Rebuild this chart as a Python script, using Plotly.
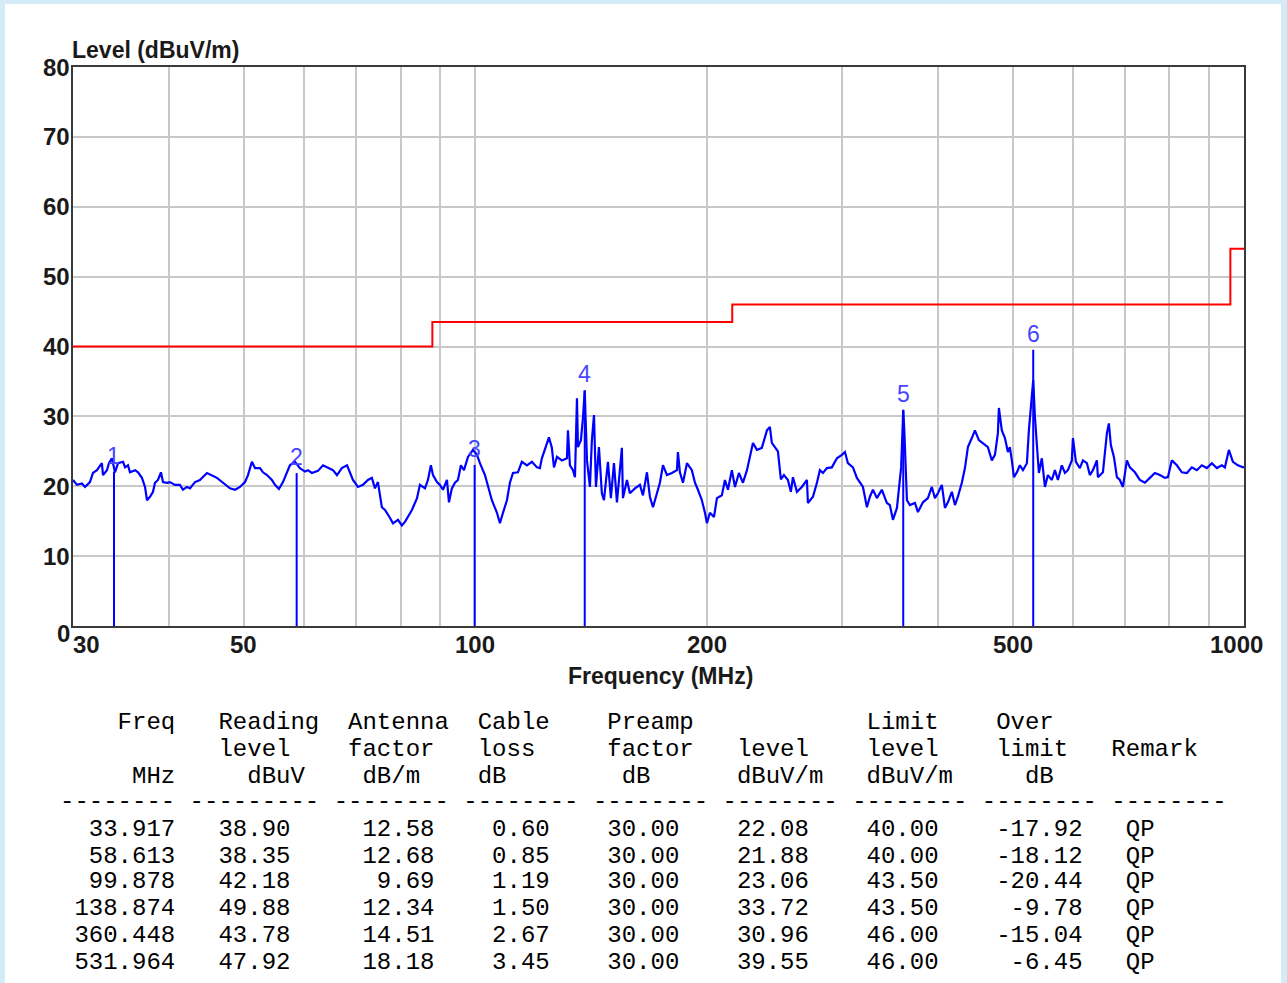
import math
import plotly.graph_objects as go

# ---------------- data ----------------
trace_freq = [
    30.0, 30.36, 30.81, 31.10, 31.56, 31.85, 32.23, 32.71, 32.82, 33.21, 33.41, 33.71, 34.02, 34.33,
    34.85, 35.06, 35.37, 35.58, 36.13, 36.45, 36.88, 37.22, 37.44, 37.78, 38.12, 38.35, 38.69, 39.04,
    39.28, 39.75, 40.10, 40.71, 41.32, 41.70, 42.20, 42.58, 43.23, 43.87, 44.81, 45.48, 46.17, 47.01,
    48.00, 48.73, 49.46, 50.21, 50.66, 51.26, 51.74, 52.51, 52.99, 53.63, 54.42, 54.93, 55.58, 56.26,
    56.94, 57.44, 58.32, 59.19, 60.09, 60.63, 61.34, 62.47, 63.42, 64.37, 65.35, 66.13, 67.11, 68.15,
    68.75, 69.38, 70.42, 71.49, 72.56, 73.42, 74.10, 74.76, 75.65, 76.36, 77.49, 78.21, 79.38, 80.32,
    81.07, 81.80, 82.77, 84.04, 84.78, 86.07, 86.84, 87.61, 88.16, 89.22, 90.01, 90.84, 91.93, 92.48,
    93.29, 94.16, 95.00, 95.85, 96.74, 97.90, 99.38, 100.57, 101.47, 103.01, 103.94, 105.16, 106.78,
    107.73, 108.72, 110.02, 111.00, 112.02, 113.70, 115.04, 116.82, 118.55, 120.37, 121.44, 122.15,
    123.29, 124.76, 125.86, 126.66, 127.80, 129.69, 131.68, 132.07, 132.85, 134.07, 134.87, 135.68,
    136.08, 137.29, 138.15, 138.87, 139.81, 141.05, 141.88, 142.78, 143.63, 144.91, 146.19, 147.11,
    148.87, 150.19, 151.58, 152.94, 155.21, 155.72, 157.59, 158.99, 161.42, 163.83, 165.33, 167.31,
    168.80, 170.36, 172.40, 173.94, 175.54, 177.65, 180.28, 183.04, 183.58, 184.67, 186.37, 188.61,
    191.40, 193.19, 194.92, 197.22, 199.06, 200.24, 202.03, 204.50, 206.34, 209.40, 211.34, 213.23,
    215.75, 217.77, 220.37, 223.05, 225.73, 227.73, 229.83, 232.59, 236.03, 239.65, 241.78, 243.20,
    245.47, 247.67, 249.87, 252.18, 255.20, 257.46, 259.07, 262.18, 266.06, 270.14, 270.94, 275.06,
    278.36, 280.84, 283.42, 286.82, 291.07, 295.53, 299.91, 302.72, 305.42, 310.05, 313.77, 316.56,
    319.48, 323.31, 326.19, 329.19, 333.14, 338.08, 343.26, 346.31, 349.50, 353.69, 358.20, 360.45,
    361.60, 364.45, 367.69, 373.30, 376.64, 382.35, 388.09, 392.67, 396.33, 399.88, 404.61, 408.39,
    412.04, 416.91, 420.80, 424.56, 429.58, 433.59, 437.47, 442.64, 446.76, 452.09, 457.60, 464.46,
    469.96, 474.34, 478.58, 480.00, 484.24, 488.76, 493.13, 496.04, 498.96, 502.11, 506.62, 511.12,
    515.82, 522.01, 525.10, 529.75, 531.96, 534.69, 537.88, 541.07, 545.85, 550.95, 555.87, 562.45,
    567.69, 572.76, 579.54, 584.94, 590.17, 597.15, 599.13, 604.52, 611.71, 617.34, 624.75, 630.30,
    636.10, 643.73, 645.64, 655.43, 663.30, 667.23, 671.16, 677.38, 683.45, 689.53, 695.88, 704.23,
    710.49, 721.33, 732.09, 743.25, 754.34, 765.85, 777.27, 789.13, 796.19, 805.60, 817.96, 830.08,
    842.82, 855.32, 868.44, 881.31, 894.83, 908.09, 922.03, 935.70, 944.42, 955.69, 967.33, 981.84,
    996.73, 1000.0,
]
trace_level = [
    20.9, 20.2, 20.4, 19.9, 20.6, 21.9, 22.3, 23.3, 21.6, 22.3, 23.3, 24.0, 22.0, 23.3,
    23.5, 22.7, 23.0, 22.0, 22.3, 22.0, 21.2, 19.9, 18.0, 18.5, 19.2, 20.5, 20.9, 22.0,
    20.6, 20.5, 20.6, 20.2, 20.2, 19.5, 19.9, 19.7, 20.6, 20.9, 21.9, 21.6, 21.2, 20.5,
    19.7, 19.5, 19.9, 20.6, 21.6, 23.5, 22.6, 22.6, 22.0, 21.6, 20.9, 20.2, 19.6, 20.6,
    21.9, 23.0, 23.5, 22.6, 22.1, 22.3, 21.9, 22.2, 23.0, 22.6, 22.3, 21.6, 22.6, 23.0,
    22.0, 20.9, 19.9, 20.2, 20.9, 21.2, 19.7, 20.6, 17.0, 16.6, 15.5, 14.7, 15.2, 14.4,
    14.9, 15.6, 16.6, 18.3, 20.2, 19.7, 20.9, 23.0, 21.6, 20.6, 20.2, 19.5, 20.9, 17.7,
    19.7, 20.5, 20.9, 23.0, 22.3, 24.2, 25.2, 24.5, 23.3, 21.6, 19.9, 18.0, 16.2,
    14.7, 16.2, 18.0, 20.5, 21.9, 22.0, 23.5, 23.0, 23.5, 22.7, 22.6, 24.0,
    25.2, 27.0, 25.5, 22.7, 24.2, 23.7, 24.0, 28.0, 23.0, 22.3, 21.3, 32.6,
    25.6, 26.6, 29.8, 33.7, 23.7, 19.9, 26.6, 30.2, 19.9, 25.6, 19.0, 18.0,
    23.5, 18.3, 23.3, 17.7, 25.5, 18.3, 20.9, 19.0, 19.7, 20.2, 18.7, 22.0,
    18.5, 17.0, 19.0, 20.5, 23.0, 21.6, 21.9, 22.3, 24.9, 22.0, 20.5, 23.3,
    22.3, 20.5, 19.5, 18.0, 16.2, 14.7, 16.2, 15.6, 18.3, 18.7, 20.9, 19.5,
    22.3, 19.9, 21.9, 20.5, 22.3, 24.2, 26.2, 25.2, 25.5, 28.0, 28.5, 26.2,
    25.5, 25.0, 21.0, 21.6, 20.9, 19.2, 21.3, 19.2, 19.9, 20.9, 17.6, 18.5,
    20.5, 22.3, 21.9, 22.6, 22.7, 24.0, 24.5, 24.9, 23.3, 22.7, 21.2, 20.6,
    19.9, 17.0, 18.5, 19.5, 18.3, 19.5, 17.6, 17.3, 15.2, 16.9, 22.7, 30.9,
    28.0, 18.0, 17.3, 17.6, 16.3, 17.7, 18.3, 19.9, 18.3, 19.0, 20.2, 16.9,
    17.7, 19.2, 17.3, 18.5, 20.5, 22.6, 25.6, 26.9, 28.0, 26.6, 26.2, 25.6,
    23.7, 24.5, 27.6, 31.2, 28.0, 26.9, 24.9, 25.6, 23.7, 21.3, 22.0, 23.0,
    22.3, 23.3, 28.0, 32.8, 35.2, 29.9, 25.2, 21.9, 24.0, 19.9, 21.6, 20.9,
    22.3, 20.9, 23.0, 21.9, 22.3, 23.7, 26.9, 23.5, 22.6, 23.7, 23.3, 21.6,
    22.3, 23.7, 21.3, 22.0, 27.6, 29.0, 25.9, 24.2, 21.3, 20.9, 19.9, 23.7,
    22.7, 22.0, 20.9, 20.5, 21.2, 21.9, 21.6, 21.2, 21.3, 23.7, 23.0, 22.0,
    21.9, 22.7, 22.3, 23.0, 22.6, 23.3, 22.6, 23.0, 22.7, 25.2, 23.5, 23.0,
    22.7, 22.8,
]

limit_freq = [30, 88, 216, 960, 1000]
limit_level = [40.0, 43.5, 46.0, 54.0, 54.0]

peak_freq = [33.917, 58.613, 99.878, 138.874, 360.448, 531.964]
reading_level = [38.90, 38.35, 42.18, 49.88, 43.78, 47.92]
antenna_factor = [12.58, 12.68, 9.69, 12.34, 14.51, 18.18]
cable_loss = [0.60, 0.85, 1.19, 1.50, 2.67, 3.45]
preamp_factor = [30.00, 30.00, 30.00, 30.00, 30.00, 30.00]
peak_level = [22.08, 21.88, 23.06, 33.72, 30.96, 39.55]
limit_at_peak = [40.00, 40.00, 43.50, 43.50, 46.00, 46.00]
over_limit = [-17.92, -18.12, -20.44, -9.78, -15.04, -6.45]
remark = ["QP", "QP", "QP", "QP", "QP", "QP"]

y_ticks = [0, 10, 20, 30, 40, 50, 60, 70, 80]
x_tick_labels = [30, 50, 100, 200, 500, 1000]
x_grid = [30, 40, 50, 60, 70, 80, 90, 100, 200, 300, 400, 500, 600, 700, 800, 900, 1000]

# ---------------- layout helpers ----------------
W, H = 1287, 983
ML, MR, MT, MB = 73, 43, 67, 357
PW, PH = W - ML - MR, H - MT - MB


def px_x(px):
    return (px - ML) / PW


def px_y(py):
    return (H - MB - py) / PH


fig = go.Figure()

# limit line
fig.add_trace(go.Scatter(x=limit_freq, y=limit_level, mode="lines", line_shape="hv",
                         line=dict(color="#ff0000", width=2), hoverinfo="skip", showlegend=False))

# measured trace
fig.add_trace(go.Scatter(x=trace_freq, y=trace_level, mode="lines",
                         line=dict(color="#0000ff", width=2.2), showlegend=False))

# marker lines
mx, my = [], []
for f, l in zip(peak_freq, peak_level):
    mx += [f, f, None]
    my += [0, l, None]
fig.add_trace(go.Scatter(x=mx, y=my, mode="lines", line=dict(color="#0000ff", width=2),
                         showlegend=False, hoverinfo="skip"))

ann = []
tick_font = dict(family="Liberation Sans, Arial, sans-serif", size=24, color="#1a1a1a", weight="bold")

# x tick labels
for v in x_tick_labels:
    shift = 0
    if v == x_tick_labels[0]:
        shift = 13
    elif v == x_tick_labels[-1]:
        shift = -8
    ann.append(dict(x=math.log10(v), xref="x", y=px_y(645), yref="paper", text=str(v),
                    showarrow=False, xanchor="center", yanchor="middle", xshift=shift, font=tick_font))

# y tick labels
for v in y_ticks:
    ann.append(dict(x=0, xref="paper", y=v, yref="y", text=str(v), showarrow=False,
                    xanchor="right", yanchor="middle", xshift=-1, yshift=(-7 if v == 0 else 0),
                    font=tick_font))

# axis titles
title_font = dict(family="Liberation Sans, Arial, sans-serif", size=23, color="#1a1a1a", weight="bold")
ann.append(dict(x=px_x(70), xref="paper", y=px_y(50), yref="paper", text="Level (dBuV/m)",
                showarrow=False, xanchor="left", yanchor="middle", font=title_font))
ann.append(dict(x=px_x(660), xref="paper", y=px_y(676), yref="paper", text="Frequency (MHz)",
                showarrow=False, xanchor="center", yanchor="middle", font=title_font))

# marker numbers
for i, (f, l) in enumerate(zip(peak_freq, peak_level)):
    ann.append(dict(x=math.log10(f), xref="x", y=l, yref="y", text=str(i + 1), showarrow=False,
                    xanchor="center", yanchor="bottom", yshift=1,
                    font=dict(family="Liberation Sans, Arial, sans-serif", size=23, color="#4646ff")))


# table
def place(parts, width=82):
    chars = [" "] * width
    for pos, txt in parts:
        for k, ch in enumerate(txt):
            chars[pos + k] = ch
    return "".join(chars).rstrip().replace(" ", "\u00a0")


header_lines = [
    place([(4, "Freq"), (11, "Reading"), (20, "Antenna"), (29, "Cable"), (38, "Preamp"),
           (56, "Limit"), (65, "Over")]),
    place([(11, "level"), (20, "factor"), (29, "loss"), (38, "factor"), (47, "level"),
           (56, "level"), (65, "limit"), (73, "Remark")]),
    place([(5, "MHz"), (13, "dBuV"), (21, "dB/m"), (29, "dB"), (39, "dB"), (47, "dBuV/m"),
           (56, "dBuV/m"), (67, "dB")]),
    place([(0, "-" * 8), (9, "-" * 9), (19, "-" * 8), (28, "-" * 8), (37, "-" * 8), (46, "-" * 8),
           (55, "-" * 8), (64, "-" * 8), (73, "-" * 8)]),
]
row_lines = []
for i in range(len(peak_freq)):
    s = (f"{peak_freq[i]:8.3f}{reading_level[i]:8.2f}{antenna_factor[i]:10.2f}{cable_loss[i]:8.2f}"
         f"{preamp_factor[i]:9.2f}{peak_level[i]:9.2f}{limit_at_peak[i]:9.2f}{over_limit[i]:10.2f}"
         f"   {remark[i]}")
    row_lines.append(s.replace(" ", "\u00a0"))

table_font = dict(family="Liberation Mono, Courier New, monospace", size=24, color="#000000")
line_y = [722, 749, 776, 801, 829, 856, 882, 909, 936, 963]
for txt, yy in zip(header_lines + row_lines, line_y):
    ann.append(dict(x=px_x(58), xref="paper", y=px_y(yy), yref="paper", text=txt, showarrow=False,
                    xanchor="left", yanchor="middle", align="left", font=table_font))

shapes = [dict(type="rect", xref="paper", yref="paper", x0=px_x(5), x1=px_x(1281), y0=px_y(1000),
               y1=px_y(4), fillcolor="#ffffff", line=dict(width=0), layer="below")]

fig.update_layout(
    width=W, height=H,
    margin=dict(l=ML, r=MR, t=MT, b=MB, pad=0),
    paper_bgcolor="#d3eaf9",
    plot_bgcolor="#ffffff",
    annotations=ann,
    shapes=shapes,
    showlegend=False,
    xaxis=dict(type="log", range=[math.log10(30), 3], tickvals=x_grid, showticklabels=False,
               ticks="", showgrid=True, gridcolor="#c8c8c8", gridwidth=1.6, zeroline=False,
               showline=True, mirror=True, linecolor="#3a3a3a", linewidth=2, fixedrange=True),
    yaxis=dict(range=[0, 80], tickvals=y_ticks, showticklabels=False, ticks="",
               showgrid=True, gridcolor="#c8c8c8", gridwidth=1.6, zeroline=False,
               showline=True, mirror=True, linecolor="#3a3a3a", linewidth=2, fixedrange=True),
)

fig.write_html("out.html", config={"displayModeBar": False},
               post_script="document.body.style.margin='0';document.body.style.overflow='hidden';")
